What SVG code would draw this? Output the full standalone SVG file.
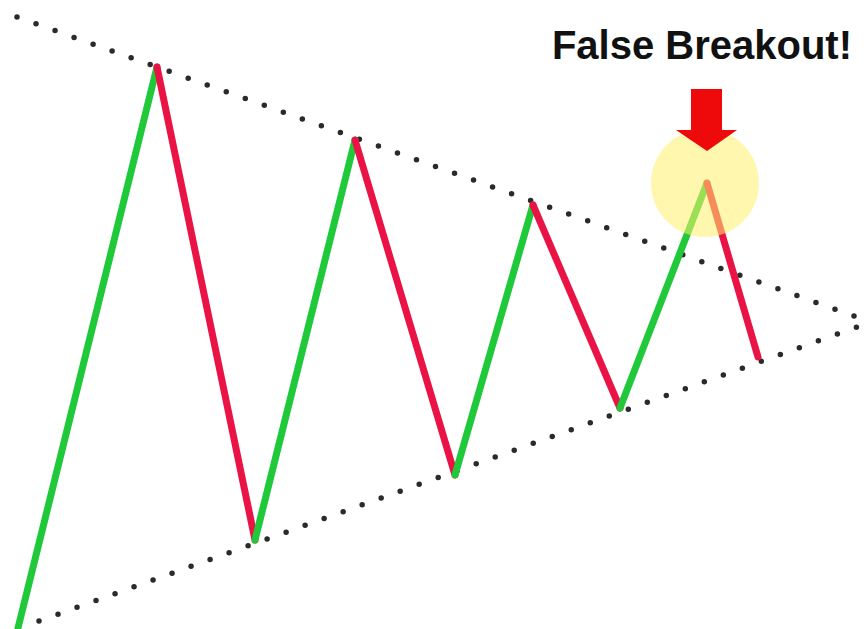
<svg xmlns="http://www.w3.org/2000/svg" width="868" height="629" viewBox="0 0 868 629">
<style>
.dots{fill:none;stroke:#2a2a2a;stroke-width:5.5;stroke-linecap:round;stroke-dasharray:0 20.2}
.up{fill:none;stroke:#1fc93a;stroke-width:7;stroke-linecap:round}
.down{fill:none;stroke:#ea1346;stroke-width:7;stroke-linecap:round}
.title{font-family:"Liberation Sans",Arial,sans-serif;font-weight:bold;font-size:40px;fill:#111}
</style>
<rect width="868" height="629" fill="#ffffff"/>
<g id="trendlines">
<path class="dots" d="M17,17 L868,321"/>
<path class="dots" d="M39,621 L868,323"/>
</g>
<g id="zigzag">
<path class="up" d="M18,628 L157,67"/>
<path class="down" d="M157,67 L255,540"/>
<path class="up" d="M255,540 L355,140"/>
<path class="down" d="M355,140 L455,475"/>
<path class="up" d="M455,475 L533,205"/>
<path class="down" d="M533,205 L620,408"/>
<path class="up" d="M620,408 L707,183"/>
<path class="down" d="M707,183 L758,357"/>
</g>
<g id="highlight">
<circle cx="705" cy="183" r="54" fill="#fff06a" opacity="0.55"/>
</g>
<g id="arrow">
<polygon points="691,89 722,89 722,130 737,130 707,151 676,130 691,130" fill="#ee0a0a"/>
</g>
<g id="label">
<text class="title" x="852" y="59" text-anchor="end">False Breakout!</text>
</g>
</svg>
